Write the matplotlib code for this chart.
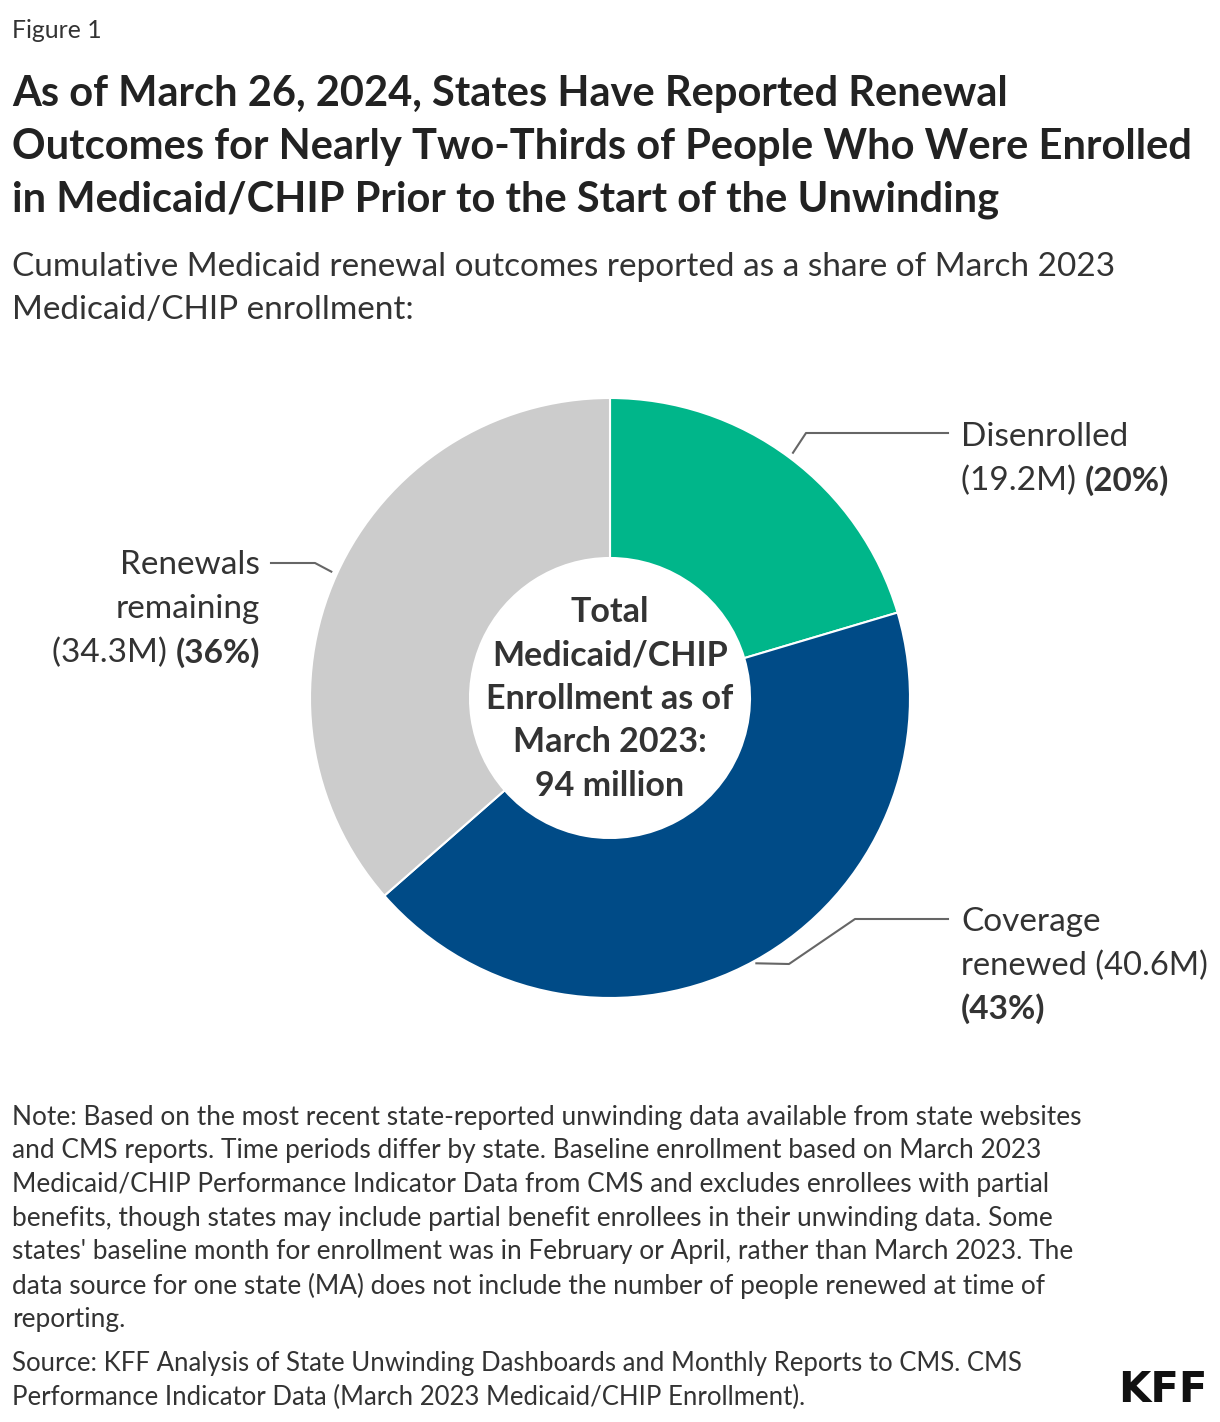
import matplotlib
matplotlib.use("Agg")
import matplotlib.pyplot as plt
import numpy as np

plt.rcParams['font.family'] = ['Lato', 'DejaVu Sans']

categories = ["Disenrolled", "Coverage renewed", "Renewals remaining"]
values_m = [19.2, 40.6, 34.3]
pct_labels = ["20%", "43%", "36%"]
colors = ["#00B68A", "#004B87", "#CCCCCC"]

title_lines = ["As of March 26, 2024, States Have Reported Renewal",
               "Outcomes for Nearly Two-Thirds of People Who Were Enrolled",
               "in Medicaid/CHIP Prior to the Start of the Unwinding"]
subtitle_lines = ["Cumulative Medicaid renewal outcomes reported as a share of March 2023",
                  "Medicaid/CHIP enrollment:"]
center_lines = ["Total", "Medicaid/CHIP", "Enrollment as of", "March 2023:", "94 million"]
note_lines = ["Note: Based on the most recent state-reported unwinding data available from state websites",
              "and CMS reports. Time periods differ by state. Baseline enrollment based on March 2023",
              "Medicaid/CHIP Performance Indicator Data from CMS and excludes enrollees with partial",
              "benefits, though states may include partial benefit enrollees in their unwinding data. Some",
              "states' baseline month for enrollment was in February or April, rather than March 2023. The",
              "data source for one state (MA) does not include the number of people renewed at time of",
              "reporting."]
source_lines = ["Source: KFF Analysis of State Unwinding Dashboards and Monthly Reports to CMS. CMS",
                "Performance Indicator Data (March 2023 Medicaid/CHIP Enrollment)."]

W, H = 1220, 1422
fig = plt.figure(figsize=(W / 100, H / 100), dpi=100)
fig.patch.set_facecolor("white")

def fx(px):
    return px / W

def fy(py):
    return 1 - py / H

TXT = "#333333"
DY = 2  # vertical centering offset for va="center" text

fig.text(fx(12), fy(28 + DY), "Figure 1", fontsize=17.8, color=TXT, va="center", ha="left")
for i, line in enumerate(title_lines):
    fig.text(fx(12), fy(92 + 53 * i + DY), line, fontsize=30, fontweight="bold",
             color="#222222", va="center", ha="left")
for i, line in enumerate(subtitle_lines):
    fig.text(fx(12), fy(265 + 43 * i + DY), line, fontsize=24, color=TXT, va="center", ha="left")

# donut
cx, cy, R = 610, 698, 300
ax = fig.add_axes([fx(cx - R), fy(cy + R), (2 * R) / W, (2 * R) / H])
wedges, _ = ax.pie(values_m, colors=colors, startangle=90, counterclock=False,
                   radius=1.0, wedgeprops=dict(width=160 / 300, edgecolor="white", linewidth=1.5))
ax.set_xlim(-1, 1)
ax.set_ylim(-1, 1)
ax.set_aspect("auto")
ax.axis("off")

for i, line in enumerate(center_lines):
    ax.text(0, (698 - (610 + 43.5 * i + DY)) / 300, line, fontsize=24.5, fontweight="bold",
            color=TXT, ha="center", va="center")

# leader lines
total = sum(values_m)
cum = np.cumsum([0] + values_m)
mids = [90 - 360 * (cum[i] + values_m[i] / 2) / total for i in range(3)]

def d(px, py):
    return ((px - cx) / R, (cy - py) / R)

lc = "#666666"
# Disenrolled
a = np.deg2rad(mids[0])
s = (1.02 * np.cos(a), 1.02 * np.sin(a))
p1 = d(806, 433)
p2 = d(948, 433)
ax.plot([s[0], p1[0], p2[0]], [s[1], p1[1], p2[1]], color=lc, lw=1.5, clip_on=False)
# Coverage renewed
a = np.deg2rad(mids[1])
s = (1.01 * np.cos(a), 1.01 * np.sin(a))
p0 = d(789, 964)
p1 = d(855, 919)
p2 = d(948, 919)
ax.plot([s[0], p0[0], p1[0], p2[0]], [s[1], p0[1], p1[1], p2[1]], color=lc, lw=1.5, clip_on=False)
# Renewals remaining
a = np.deg2rad(mids[2])
s = (1.02 * np.cos(a), 1.02 * np.sin(a))
p1 = d(315, 563)
p2 = d(271, 563)
ax.plot([s[0], p1[0], p2[0]], [s[1], p1[1], p2[1]], color=lc, lw=1.5, clip_on=False)

LF = 24
# Disenrolled label
fig.text(fx(961), fy(435 + DY), categories[0], fontsize=LF, color=TXT, va="center", ha="left")
t = fig.text(fx(961), fy(479 + DY), f"({values_m[0]}M) ", fontsize=LF, color=TXT, va="center", ha="left")
fig.canvas.draw()
bb = t.get_window_extent()
fig.text(bb.x1 / W, fy(479 + DY), f"({pct_labels[0]})", fontsize=LF, fontweight="bold",
         color=TXT, va="center", ha="left")
# Coverage renewed label
fig.text(fx(961), fy(920 + DY), "Coverage", fontsize=LF, color=TXT, va="center", ha="left")
fig.text(fx(961), fy(964 + DY), f"renewed ({values_m[1]}M)", fontsize=23.6, color=TXT,
         va="center", ha="left")
fig.text(fx(961), fy(1007 + DY), f"({pct_labels[1]})", fontsize=LF, fontweight="bold",
         color=TXT, va="center", ha="left")
# Renewals remaining label
fig.text(fx(260), fy(563 + DY), "Renewals", fontsize=LF, color=TXT, va="center", ha="right")
fig.text(fx(260), fy(607 + DY), "remaining", fontsize=LF, color=TXT, va="center", ha="right")
t = fig.text(fx(260), fy(651 + DY), f"({pct_labels[2]})", fontsize=LF, fontweight="bold",
             color=TXT, va="center", ha="right")
fig.canvas.draw()
bb = t.get_window_extent()
fig.text(bb.x0 / W, fy(651 + DY), f"({values_m[2]}M) ", fontsize=LF, color=TXT, va="center", ha="right")

# notes
for i, line in enumerate(note_lines):
    fig.text(fx(12), fy(1115 + 33.7 * i + DY), line, fontsize=18.9, color=TXT, va="center", ha="left")
for i, line in enumerate(source_lines):
    fig.text(fx(12), fy(1362 + 33 * i + DY), line, fontsize=18.5, color=TXT, va="center", ha="left")

fig.text(fx(1207), fy(1390), "KFF", fontsize=30, fontweight="bold", color="#111111",
         va="center", ha="right", family="DejaVu Sans")

fig.savefig("out.png", dpi=100, facecolor="white")
